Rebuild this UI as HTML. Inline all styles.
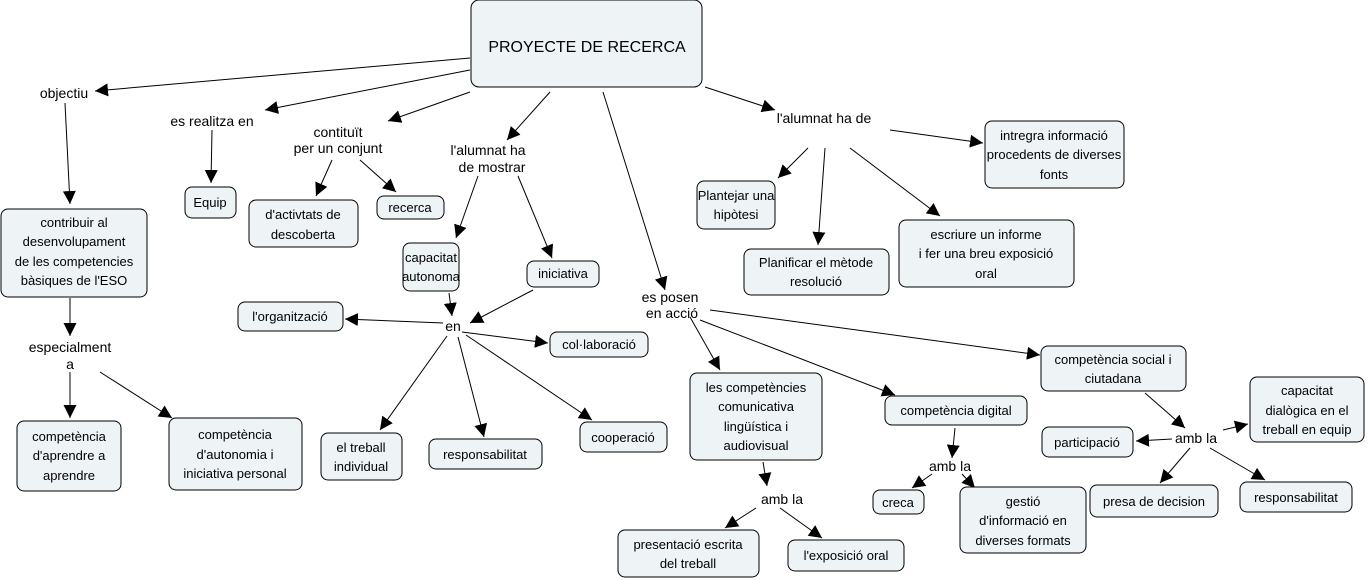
<!DOCTYPE html>
<html><head><meta charset="utf-8"><style>
html,body{margin:0;padding:0;background:#fff;}
svg{display:block;font-family:"Liberation Sans",sans-serif;}
.n{fill:#eef3f6;stroke:#000;stroke-width:1;}
.t{font-size:13px;fill:#000;text-anchor:middle;}
.l{font-size:14px;fill:#000;text-anchor:middle;}
line{stroke:#000;stroke-width:1;marker-end:url(#a);}
</style></head><body>
<svg width="1370" height="580" viewBox="0 0 1370 580">
<defs><marker id="a" viewBox="0 0 10 10" refX="10" refY="5" markerWidth="13" markerHeight="13" markerUnits="userSpaceOnUse" orient="auto"><path d="M0,0L10,5L0,10z" fill="#000"/></marker></defs>
<line x1="470" y1="58" x2="95" y2="91"/>
<line x1="470" y1="70" x2="265" y2="110"/>
<line x1="470" y1="92" x2="388" y2="121"/>
<line x1="550" y1="92" x2="507" y2="140"/>
<line x1="603" y1="92" x2="665" y2="290"/>
<line x1="705" y1="87" x2="775" y2="110"/>
<line x1="65" y1="103" x2="70" y2="204"/>
<line x1="212" y1="130" x2="211" y2="183"/>
<line x1="332" y1="160" x2="316" y2="196"/>
<line x1="360" y1="160" x2="396" y2="192"/>
<line x1="478" y1="176" x2="456" y2="238"/>
<line x1="518" y1="176" x2="552" y2="258"/>
<line x1="449" y1="293" x2="452" y2="316"/>
<line x1="533" y1="290" x2="470" y2="323"/>
<line x1="443" y1="323" x2="345" y2="319"/>
<line x1="462" y1="332" x2="548" y2="343"/>
<line x1="447" y1="336" x2="380" y2="430"/>
<line x1="458" y1="337" x2="484" y2="437"/>
<line x1="466" y1="335" x2="592" y2="420"/>
<line x1="70" y1="298" x2="70" y2="336"/>
<line x1="70" y1="372" x2="70" y2="418"/>
<line x1="100" y1="372" x2="172" y2="418"/>
<line x1="825" y1="148" x2="818" y2="245"/>
<line x1="808" y1="148" x2="778" y2="178"/>
<line x1="850" y1="148" x2="940" y2="216"/>
<line x1="890" y1="130" x2="983" y2="143"/>
<line x1="690" y1="317" x2="720" y2="370"/>
<line x1="700" y1="320" x2="895" y2="395"/>
<line x1="710" y1="310" x2="1040" y2="355"/>
<line x1="763" y1="462" x2="767" y2="486"/>
<line x1="756" y1="508" x2="725" y2="528"/>
<line x1="780" y1="508" x2="822" y2="538"/>
<line x1="955" y1="428" x2="952" y2="458"/>
<line x1="932" y1="474" x2="912" y2="488"/>
<line x1="962" y1="474" x2="975" y2="488"/>
<line x1="1145" y1="393" x2="1185" y2="428"/>
<line x1="1172" y1="439" x2="1136" y2="441"/>
<line x1="1223" y1="430" x2="1248" y2="424"/>
<line x1="1190" y1="448" x2="1160" y2="483"/>
<line x1="1210" y1="448" x2="1265" y2="480"/>
<rect class="n" x="471" y="0" width="231" height="87" rx="8"/>
<text x="587" y="52" style="font-size:16px;text-anchor:middle">PROYECTE DE RECERCA</text>
<rect class="n" x="1" y="209" width="146" height="88" rx="7"/>
<text class="t" x="74" y="227">contribuir al</text><text class="t" x="74" y="246">desenvolupament</text><text class="t" x="74" y="266">de les competencies</text><text class="t" x="74" y="285">bàsiques de l'ESO</text>
<rect class="n" x="185" y="187" width="51" height="31" rx="7"/><text class="t" x="210" y="207">Equip</text>
<rect class="n" x="249" y="200" width="109" height="47" rx="7"/><text class="t" x="303" y="219">d'activtats de</text><text class="t" x="303" y="239">descoberta</text>
<rect class="n" x="377" y="196" width="67" height="23" rx="7"/><text class="t" x="410" y="212">recerca</text>
<rect class="n" x="403" y="243" width="56" height="48" rx="7"/><text class="t" x="431" y="262">capacitat</text><text class="t" x="431" y="281">autonoma</text>
<rect class="n" x="527" y="261" width="72" height="26" rx="7"/><text class="t" x="563" y="278">iniciativa</text>
<rect class="n" x="238" y="302" width="105" height="29" rx="7"/><text class="t" x="290" y="321">l'organització</text>
<rect class="n" x="550" y="332" width="98" height="25" rx="7"/><text class="t" x="599" y="349">col·laboració</text>
<rect class="n" x="321" y="433" width="81" height="47" rx="7"/><text class="t" x="361" y="452">el treball</text><text class="t" x="361" y="471">individual</text>
<rect class="n" x="429" y="439" width="113" height="30" rx="7"/><text class="t" x="485" y="459">responsabilitat</text>
<rect class="n" x="580" y="422" width="87" height="30" rx="7"/><text class="t" x="623" y="442">cooperació</text>
<rect class="n" x="17" y="421" width="104" height="70" rx="7"/><text class="t" x="69" y="441">competència</text><text class="t" x="69" y="460">d'aprendre a</text><text class="t" x="69" y="480">aprendre</text>
<rect class="n" x="169" y="418" width="133" height="72" rx="7"/><text class="t" x="235" y="439">competència</text><text class="t" x="235" y="459">d'autonomia i</text><text class="t" x="235" y="478">iniciativa personal</text>
<rect class="n" x="697" y="181" width="78" height="48" rx="7"/><text class="t" x="736" y="200">Plantejar una</text><text class="t" x="736" y="219">hipòtesi</text>
<rect class="n" x="744" y="249" width="145" height="46" rx="7"/><text class="t" x="816" y="267">Planificar el mètode</text><text class="t" x="816" y="286">resolució</text>
<rect class="n" x="899" y="220" width="175" height="67" rx="7"/><text class="t" x="986" y="239">escriure un informe</text><text class="t" x="986" y="258">i fer una breu exposició</text><text class="t" x="986" y="278">oral</text>
<rect class="n" x="985" y="121" width="139" height="67" rx="7"/><text class="t" x="1054" y="140">intregra informació</text><text class="t" x="1054" y="159">procedents de diverses</text><text class="t" x="1054" y="179">fonts</text>
<rect class="n" x="690" y="373" width="132" height="87" rx="7"/><text class="t" x="756" y="392">les competències</text><text class="t" x="756" y="411">comunicativa</text><text class="t" x="756" y="431">lingüística i</text><text class="t" x="756" y="450">audiovisual</text>
<rect class="n" x="885" y="396" width="142" height="29" rx="7"/><text class="t" x="956" y="415">competència digital</text>
<rect class="n" x="1041" y="346" width="145" height="45" rx="7"/><text class="t" x="1113" y="364">competència social i</text><text class="t" x="1113" y="383">ciutadana</text>
<rect class="n" x="1250" y="377" width="114" height="65" rx="7"/><text class="t" x="1307" y="395">capacitat</text><text class="t" x="1307" y="415">dialògica en el</text><text class="t" x="1307" y="434">treball en equip</text>
<rect class="n" x="1042" y="427" width="91" height="30" rx="7"/><text class="t" x="1087" y="447">participació</text>
<rect class="n" x="1090" y="485" width="128" height="32" rx="7"/><text class="t" x="1154" y="506">presa de decision</text>
<rect class="n" x="1240" y="482" width="112" height="30" rx="7"/><text class="t" x="1296" y="502">responsabilitat</text>
<rect class="n" x="873" y="490" width="51" height="24" rx="7"/><text class="t" x="898" y="507">creca</text>
<rect class="n" x="960" y="487" width="126" height="66" rx="7"/><text class="t" x="1023" y="506">gestió</text><text class="t" x="1023" y="525">d'informació en</text><text class="t" x="1023" y="545">diverses formats</text>
<rect class="n" x="618" y="530" width="141" height="47" rx="7"/><text class="t" x="688" y="549">presentació escrita</text><text class="t" x="688" y="568">del treball</text>
<rect class="n" x="788" y="540" width="116" height="31" rx="7"/><text class="t" x="846" y="560">l'exposició oral</text>
<text class="l" x="64" y="98">objectiu</text>
<text class="l" x="212" y="126">es realitza en</text>
<text class="l" x="338" y="137">contituït</text><text class="l" x="338" y="153">per un conjunt</text>
<text class="l" x="488" y="155">l'alumnat ha</text><text class="l" x="492" y="172">de mostrar</text>
<text class="l" x="670" y="302">es posen</text><text class="l" x="672" y="318">en acció</text>
<text class="l" x="824" y="123">l'alumnat ha de</text>
<text class="l" x="70" y="352">especialment</text><text class="l" x="70" y="369">a</text>
<text class="l" x="453" y="331">en</text>
<text class="l" x="782" y="504">amb la</text>
<text class="l" x="950" y="471">amb la</text>
<text class="l" x="1196" y="443">amb la</text>
</svg>
</body></html>
